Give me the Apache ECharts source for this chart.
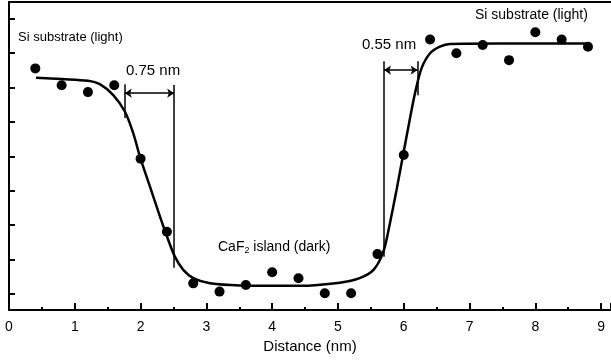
<!DOCTYPE html>
<html>
<head>
<meta charset="utf-8">
<script src="https://cdn.jsdelivr.net/npm/echarts@6/dist/echarts.min.js"></script>
<style>
  html, body { margin: 0; padding: 0; background: #fff; }
  #chart { width: 611px; height: 362px; }
</style>
</head>
<body>
<div id="chart"></div>
<script>
// measured points (distance nm, intensity in tick units)
var dotX = [0.4, 0.8, 1.2, 1.6, 2.0, 2.4, 2.8, 3.2, 3.6, 4.0, 4.4, 4.8, 5.2, 5.6, 6.0, 6.4, 6.8, 7.2, 7.6, 8.0, 8.4, 8.8];
var dotY = [6.56, 6.07, 5.87, 6.07, 3.93, 1.81, 0.31, 0.07, 0.26, 0.63, 0.46, 0.02, 0.02, 1.16, 4.04, 7.40, 7.00, 7.24, 6.80, 7.61, 7.40, 7.19];

// fitted profile
var fitX = [0.41, 0.81, 1.20, 1.38, 1.585, 1.763, 1.889, 1.991, 2.143, 2.295, 2.421, 2.523, 2.649, 2.801, 3.055, 3.51, 4.42, 5.03, 5.33, 5.54, 5.69, 5.79, 5.89, 5.99, 6.09, 6.17, 6.27, 6.40, 6.55, 6.70, 7.46, 8.78];
var fitY = [6.29, 6.25, 6.20, 6.10, 5.785, 5.30, 4.67, 3.99, 3.12, 2.25, 1.57, 1.08, 0.70, 0.46, 0.31, 0.25, 0.24, 0.33, 0.46, 0.70, 1.23, 2.06, 3.02, 4.04, 5.06, 5.83, 6.56, 7.00, 7.19, 7.27, 7.28, 7.28];

// width markers: [x, yFrom, yTo]
var markerLines = [[1.76, 6.10, 5.12], [2.51, 6.08, 0.76], [5.70, 6.77, 1.08], [6.21, 6.77, 5.78]];
// double arrows: [xFrom, xTo, y]
var arrowLines = [[1.76, 2.51, 5.84], [5.70, 6.21, 6.51]];

var yTicks = [0, 1, 2, 3, 4, 5, 6, 7, 8];

var font = 'Liberation Sans, Arial, Helvetica, sans-serif';

var dots = dotX.map(function (x, i) { return [x, dotY[i]]; });
var fit = fitX.map(function (x, i) { return [x, fitY[i]]; });

var mlData = [];
markerLines.forEach(function (m) {
  mlData.push([{ coord: [m[0], m[1]], symbol: 'none' }, { coord: [m[0], m[2]], symbol: 'none' }]);
});
arrowLines.forEach(function (a) {
  mlData.push([{ coord: [a[0], a[2]], symbol: 'arrow' }, { coord: [a[1], a[2]], symbol: 'arrow' }]);
});

var chart = echarts.init(document.getElementById('chart'));
chart.setOption({
  backgroundColor: '#fff',
  animation: false,
  grid: { left: 9, right: 0, top: 2, bottom: 52, outerBoundsMode: 'none' },
  xAxis: [{
    type: 'value',
    min: 0,
    max: 9.15,
    interval: 1,
    name: 'Distance (nm)',
    nameLocation: 'middle',
    nameGap: 25,
    nameTextStyle: { fontFamily: font, fontSize: 15, color: '#000' },
    axisLine: { show: true, onZero: false, lineStyle: { color: '#000', width: 2 } },
    axisTick: { show: true, inside: true, length: 7, lineStyle: { color: '#000', width: 2 } },
    minorTick: { show: true, splitNumber: 2, length: 3, lineStyle: { color: '#000', width: 2 } },
    axisLabel: { fontFamily: font, fontSize: 14, color: '#000', margin: 10, showMaxLabel: false },
    splitLine: { show: false }
  }, {
    type: 'value',
    position: 'top',
    min: 0,
    max: 9.15,
    axisLine: { show: true, onZero: false, lineStyle: { color: '#000', width: 2 } },
    axisTick: { show: false },
    axisLabel: { show: false },
    splitLine: { show: false }
  }],
  yAxis: {
    type: 'value',
    min: -0.465,
    max: 8.49,
    axisLine: { show: true, onZero: false, lineStyle: { color: '#000', width: 2 } },
    axisTick: { show: true, inside: true, length: 6, customValues: yTicks, lineStyle: { color: '#000', width: 2 } },
    axisLabel: { show: false },
    splitLine: { show: false }
  },
  series: [{
    type: 'line',
    data: fit,
    smooth: 0.3,
    symbol: 'none',
    lineStyle: { color: '#000', width: 2.5 },
    markLine: {
      silent: true,
      symbolSize: 7,
      label: { show: false },
      lineStyle: { color: '#000', width: 1.5, type: 'solid' },
      data: mlData
    }
  }, {
    type: 'scatter',
    data: dots,
    symbol: 'circle',
    symbolSize: 10,
    itemStyle: { color: '#000', opacity: 1 }
  }],
  graphic: [
    { type: 'text', left: 18, top: 31, style: { text: 'Si substrate (light)', font: '13px ' + font, fill: '#000' } },
    { type: 'text', left: 475, top: 8, style: { text: 'Si substrate (light)', font: '14px ' + font, fill: '#000' } },
    { type: 'text', left: 126, top: 63, style: { text: '0.75 nm', font: '15px ' + font, fill: '#000' } },
    { type: 'text', left: 362, top: 37, style: { text: '0.55 nm', font: '15px ' + font, fill: '#000' } },
    {
      type: 'text', left: 218, top: 240,
      style: {
        text: 'CaF{sub|2} island (dark)',
        font: '14px ' + font,
        fill: '#000',
        rich: { sub: { fontSize: 9, fontFamily: font, fill: '#000', verticalAlign: 'bottom', padding: [8, 0, 0, 0] } }
      }
    }
  ]
});
</script>
</body>
</html>
